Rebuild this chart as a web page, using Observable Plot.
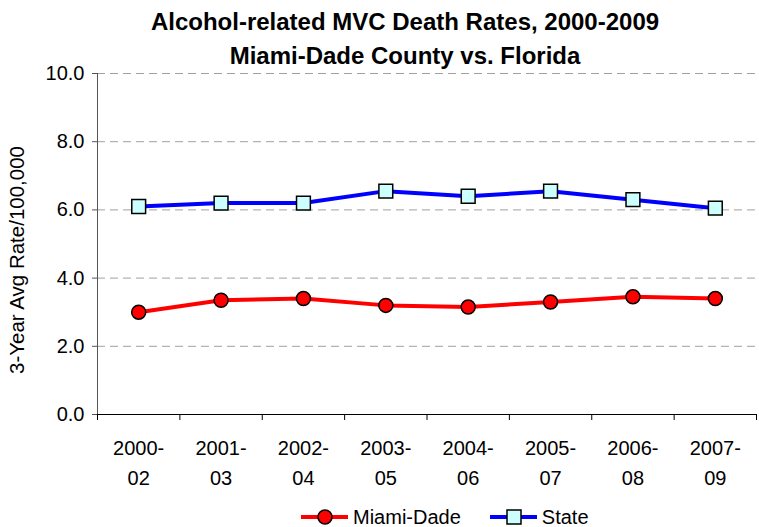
<!DOCTYPE html>
<html>
<head>
<meta charset="utf-8">
<script src="https://cdn.jsdelivr.net/npm/d3@7"></script>
<script src="https://cdn.jsdelivr.net/npm/@observablehq/plot@0.6"></script>
<style>
  html, body { margin: 0; padding: 0; background: #fff; }
  #wrap { position: relative; width: 759px; height: 527px; overflow: hidden; font-family: "Liberation Sans", Arial, sans-serif; color: #000; }
  #title { position: absolute; left: 50px; width: 710px; top: 5px; text-align: center; font-weight: bold; font-size: 24px; line-height: 34px; }
  #chart { position: absolute; left: 0; top: 0; }
  #legend { position: absolute; top: 506px; left: 300px; display: flex; align-items: center; font-size: 20px; line-height: 22px; white-space: nowrap; }
  #legend .item { display: flex; align-items: center; }
  #legend svg { display: block; }
</style>
</head>
<body>
<div id="wrap">
  <div id="chart"></div>
  <div id="title">Alcohol-related MVC Death Rates, 2000-2009<br>Miami-Dade County vs. Florida</div>
  <div id="legend"></div>
</div>
<script>
const categories = ["2000-02", "2001-03", "2002-04", "2003-05", "2004-06", "2005-07", "2006-08", "2007-09"];
const miamiDade = [3.0, 3.35, 3.4, 3.2, 3.15, 3.3, 3.45, 3.4];
const stateRate = [6.1, 6.2, 6.2, 6.55, 6.4, 6.55, 6.3, 6.05];
const yTicks = [0, 2, 4, 6, 8, 10];
const seriesNames = ["Miami-Dade", "State"];
const yLabel = "3-Year Avg Rate/100,000";

const mdData = categories.map((c, i) => ({i, cat: c, v: miamiDade[i]}));
const stData = categories.map((c, i) => ({i, cat: c, v: stateRate[i]}));
const boundaries = d3.range(categories.length + 1).map(k => k - 0.5);
const splitLabel = c => c.replace("-", "-\n");

const chart = Plot.plot({
  width: 759,
  height: 527,
  marginTop: 73,
  marginBottom: 113,
  marginLeft: 97,
  marginRight: 3,
  style: {fontFamily: "'Liberation Sans', Arial, sans-serif", fontSize: "20px", color: "#000", background: "transparent"},
  x: {type: "linear", domain: [-0.5, categories.length - 0.5], axis: null},
  y: {domain: [0, 10], axis: null},
  marks: [
    Plot.gridY(yTicks.filter(d => d > 0), {stroke: "#a0a0a0", strokeOpacity: 1, strokeWidth: 1, strokeDasharray: "8,5"}),
    Plot.axisY(yTicks, {tickFormat: d => d.toFixed(1), tickSize: 5, tickPadding: 8, fontSize: 20, label: null, stroke: "#555", fill: "#000"}),
    Plot.ruleX([-0.5], {stroke: "#555", strokeWidth: 1}),
    Plot.axisX(boundaries, {tickFormat: () => "", tickSize: 6, label: null, stroke: "#000"}),
    Plot.axisX(d3.range(categories.length), {tickSize: 0, tickPadding: 19, tickFormat: i => splitLabel(categories[i]), lineHeight: 1.5, fontSize: 20, label: null, fill: "#000"}),
    Plot.ruleY([0], {stroke: "#000", strokeWidth: 1}),
    Plot.line(stData, {x: "i", y: "v", stroke: "#0000ff", strokeWidth: 4}),
    Plot.line(mdData, {x: "i", y: "v", stroke: "#ff0000", strokeWidth: 4}),
    Plot.dot(stData, {x: "i", y: "v", symbol: "square", r: 7.8, fill: "#ccffff", stroke: "#000", strokeWidth: 1.5}),
    Plot.dot(mdData, {x: "i", y: "v", symbol: "circle", r: 7, fill: "#ff0000", stroke: "#000", strokeWidth: 1.5}),
    Plot.text([yLabel], {frameAnchor: "left", dx: -80, dy: 16, rotate: -90, textAnchor: "middle", lineAnchor: "middle", fontSize: 20.5, fill: "#000"})
  ]
});
document.getElementById("chart").appendChild(chart);

// Legend
const legend = d3.select("#legend");
const colors = {"Miami-Dade": "#ff0000", "State": "#0000ff"};
seriesNames.forEach((name, k) => {
  const item = legend.append("div").attr("class", "item").style("margin-right", k === 0 ? "28px" : "0");
  const svg = item.append("svg").attr("width", 50).attr("height", 22);
  svg.append("line").attr("x1", 1).attr("x2", 48).attr("y1", 11).attr("y2", 11).attr("stroke", colors[name]).attr("stroke-width", 4);
  if (name === "Miami-Dade") {
    svg.append("circle").attr("cx", 25).attr("cy", 11).attr("r", 7).attr("fill", "#ff0000").attr("stroke", "#000").attr("stroke-width", 1.5);
  } else {
    svg.append("rect").attr("x", 18).attr("y", 4).attr("width", 14).attr("height", 14).attr("fill", "#ccffff").attr("stroke", "#000").attr("stroke-width", 1.5);
  }
  item.append("span").text(name).style("margin-left", "3px");
});
</script>
</body>
</html>
